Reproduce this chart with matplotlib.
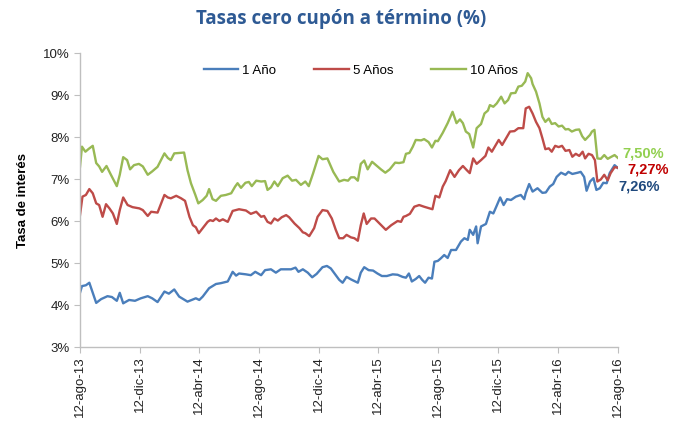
import matplotlib
matplotlib.use("Agg")
import matplotlib.pyplot as plt
import numpy as np
import datetime as dt
import matplotlib.dates as mdates
from matplotlib.ticker import FuncFormatter

START = dt.date(2013, 8, 12)

# day offsets from 12-ago-13 and rate values (%)
days_1y = [0, 4, 12, 19, 33, 43, 56, 65, 75, 81, 88, 100, 112, 124, 138, 147, 158, 172, 181, 192,
           202, 219, 236, 243, 250, 263, 277, 287, 301, 311, 318, 324, 338, 348, 357, 369, 377, 389,
           399, 409, 420, 430, 439, 445, 454, 464, 473, 482, 494, 503, 511, 521, 528, 535, 543, 552,
           566, 572, 579, 588, 597, 606, 615, 625, 637, 647, 657, 664, 670, 676, 684, 691, 697, 703,
           710, 717, 722, 729, 735, 742, 749, 756, 766, 776, 783, 790, 794, 801, 807, 810, 817, 827,
           835, 842, 848, 856, 863, 870, 878, 888, 898, 905, 908, 915, 922, 932, 942, 949, 957, 964,
           971, 980, 989, 995, 1003, 1014, 1020, 1027, 1032, 1039, 1046, 1052, 1059, 1066, 1073,
           1079, 1089, 1096]
vals_1y = [4.29, 4.45, 4.47, 4.53, 4.05, 4.14, 4.21, 4.19, 4.10, 4.29, 4.04, 4.12, 4.10, 4.16, 4.21,
           4.16, 4.07, 4.32, 4.27, 4.37, 4.20, 4.08, 4.16, 4.12, 4.20, 4.40, 4.50, 4.52, 4.56, 4.79,
           4.70, 4.75, 4.73, 4.71, 4.79, 4.71, 4.83, 4.85, 4.77, 4.85, 4.85, 4.85, 4.89, 4.79, 4.85,
           4.77, 4.66, 4.74, 4.90, 4.93, 4.87, 4.71, 4.60, 4.53, 4.67, 4.61, 4.53, 4.77, 4.90, 4.83,
           4.82, 4.75, 4.69, 4.69, 4.73, 4.72, 4.67, 4.65, 4.75, 4.56, 4.62, 4.69, 4.60, 4.53, 4.65,
           4.63, 5.03, 5.05, 5.11, 5.19, 5.12, 5.31, 5.31, 5.51, 5.59, 5.55, 5.79, 5.67, 5.87, 5.47,
           5.87, 5.93, 6.22, 6.18, 6.34, 6.56, 6.38, 6.52, 6.50, 6.58, 6.62, 6.52, 6.66, 6.88, 6.70,
           6.78, 6.67, 6.68, 6.82, 6.88, 7.05, 7.15, 7.10, 7.17, 7.12, 7.15, 7.17, 7.05, 6.72, 6.94,
           7.02, 6.74, 6.78, 6.91, 6.90, 7.14, 7.33, 7.26]

days_5y = [0, 5, 12, 19, 26, 33, 39, 46, 53, 60, 67, 75, 81, 88, 97, 107, 121, 128, 138, 145, 158,
           172, 179, 185, 196, 206, 214, 223, 230, 236, 242, 250, 260, 265, 271, 277, 284, 291, 301,
           311, 324, 338, 348, 359, 369, 375, 382, 389, 396, 403, 411, 420, 426, 437, 447, 454, 459,
           467, 477, 484, 494, 504, 513, 521, 528, 536, 543, 552, 559, 566, 572, 578, 584, 593, 600,
           611, 623, 634, 647, 654, 659, 664, 672, 681, 691, 701, 712, 718, 724, 732, 739, 745, 754,
           763, 772, 780, 788, 794, 801, 808, 817, 826, 832, 839, 846, 853, 860, 868, 876, 885, 893,
           903, 908, 915, 922, 929, 936, 942, 948, 955, 961, 968, 975, 982, 989, 997, 1003, 1010,
           1017, 1024, 1029, 1036, 1043, 1049, 1054, 1061, 1068, 1075, 1081, 1089, 1096]
vals_5y = [6.14, 6.58, 6.62, 6.76, 6.66, 6.42, 6.38, 6.10, 6.40, 6.30, 6.18, 5.93, 6.26, 6.56, 6.38,
           6.33, 6.30, 6.26, 6.12, 6.22, 6.20, 6.62, 6.56, 6.54, 6.60, 6.54, 6.48, 6.10, 5.90, 5.85,
           5.71, 5.83, 5.98, 6.02, 6.00, 6.06, 6.00, 6.04, 5.98, 6.24, 6.28, 6.25, 6.17, 6.22, 6.10,
           6.12, 5.98, 5.94, 6.06, 6.01, 6.09, 6.14, 6.09, 5.94, 5.83, 5.73, 5.71, 5.64, 5.83, 6.10,
           6.26, 6.24, 6.06, 5.79, 5.59, 5.59, 5.67, 5.61, 5.59, 5.53, 5.90, 6.18, 5.93, 6.06, 6.06,
           5.93, 5.79, 5.90, 6.00, 5.98, 6.10, 6.12, 6.17, 6.34, 6.38, 6.34, 6.30, 6.28, 6.60, 6.56,
           6.82, 6.95, 7.21, 7.05, 7.21, 7.31, 7.21, 7.14, 7.49, 7.36, 7.45, 7.55, 7.75, 7.65, 7.79,
           7.93, 7.81, 7.97, 8.13, 8.14, 8.21, 8.21, 8.68, 8.72, 8.56, 8.36, 8.21, 7.97, 7.71, 7.73,
           7.65, 7.79, 7.76, 7.79, 7.67, 7.69, 7.53, 7.60, 7.55, 7.65, 7.49, 7.60, 7.57, 7.45, 6.94,
           6.99, 7.10, 6.97, 7.14, 7.28, 7.27]

days_10y = [0, 4, 11, 18, 26, 33, 39, 45, 54, 63, 75, 81, 88, 96, 102, 110, 120, 128, 138, 147, 158,
            172, 179, 185, 192, 202, 212, 219, 226, 235, 241, 250, 258, 263, 270, 277, 287, 297, 308,
            316, 321, 328, 337, 344, 350, 359, 369, 377, 382, 389, 396, 403, 413, 423, 432, 440, 450,
            459, 466, 475, 486, 494, 504, 516, 528, 538, 546, 552, 559, 566, 572, 579, 586, 595, 603,
            613, 622, 631, 642, 650, 659, 664, 671, 678, 684, 695, 701, 710, 717, 724, 729, 739, 749,
            759, 767, 774, 780, 786, 793, 801, 808, 817, 824, 831, 835, 842, 849, 858, 865, 872, 878,
            887, 893, 900, 907, 912, 919, 922, 929, 936, 942, 948, 955, 961, 968, 975, 982, 989, 995,
            1002, 1010, 1017, 1023, 1029, 1039, 1043, 1048, 1054, 1061, 1068, 1075, 1081, 1089, 1096]
vals_10y = [7.29, 7.77, 7.65, 7.72, 7.79, 7.38, 7.30, 7.17, 7.31, 7.10, 6.83, 7.10, 7.52, 7.45, 7.23,
            7.33, 7.36, 7.30, 7.10, 7.18, 7.29, 7.61, 7.50, 7.45, 7.61, 7.62, 7.63, 7.21, 6.90, 6.62,
            6.42, 6.50, 6.60, 6.76, 6.52, 6.48, 6.60, 6.62, 6.66, 6.82, 6.90, 6.79, 6.91, 6.93, 6.83,
            6.96, 6.94, 6.95, 6.74, 6.80, 6.94, 6.83, 7.02, 7.08, 6.96, 6.98, 6.86, 6.94, 6.83, 7.14,
            7.55, 7.47, 7.49, 7.17, 6.94, 6.98, 6.96, 7.04, 7.04, 6.96, 7.36, 7.44, 7.23, 7.41, 7.33,
            7.23, 7.15, 7.23, 7.39, 7.38, 7.40, 7.60, 7.62, 7.77, 7.93, 7.92, 7.95, 7.88, 7.75, 7.91,
            7.90, 8.10, 8.33, 8.60, 8.33, 8.42, 8.33, 8.13, 8.07, 7.75, 8.21, 8.31, 8.56, 8.63, 8.76,
            8.72, 8.80, 8.96, 8.80, 8.88, 9.04, 9.05, 9.20, 9.22, 9.32, 9.52, 9.40, 9.26, 9.08, 8.80,
            8.48, 8.36, 8.44, 8.31, 8.33, 8.25, 8.27, 8.18, 8.19, 8.13, 8.17, 8.18, 8.02, 7.93, 8.05,
            8.13, 8.17, 7.49, 7.48, 7.57, 7.48, 7.52, 7.57, 7.50]

series_names = ["1 Año", "5 Años", "10 Años"]
end_labels = ["7,26%", "7,27%", "7,50%"]
tick_dates = ["2013-08-12", "2013-12-12", "2014-04-12", "2014-08-12", "2014-12-12",
              "2015-04-12", "2015-08-12", "2015-12-12", "2016-04-12", "2016-08-12"]
tick_labels = ["12-ago-13", "12-dic-13", "12-abr-14", "12-ago-14", "12-dic-14",
               "12-abr-15", "12-ago-15", "12-dic-15", "12-abr-16", "12-ago-16"]
y_ticks = [3, 4, 5, 6, 7, 8, 9, 10]

line_colors = ["#4A7EBB", "#BE4B48", "#98B954"]
label_colors = ["#1F497D", "#C00000", "#92D050"]

def to_dates(days):
    return [START + dt.timedelta(days=int(d)) for d in days]

plt.rcParams['font.family'] = ['Liberation Sans', 'DejaVu Sans']

fig = plt.figure(figsize=(6.75, 4.25), dpi=100)
ax = fig.add_axes([80/675, 1-347/425, (618-80)/675, (347-53)/425])

all_days = [days_1y, days_5y, days_10y]
all_vals = [vals_1y, vals_5y, vals_10y]
for d, v, name, c in zip(all_days, all_vals, series_names, line_colors):
    ax.plot(to_dates(d), v, color=c, lw=1.7, label=name)

ax.set_ylim(3, 10)
ax.set_yticks(y_ticks)
ax.yaxis.set_major_formatter(FuncFormatter(lambda v, p: f"{int(v)}%"))
xt = [dt.date.fromisoformat(s) for s in tick_dates]
ax.set_xlim(xt[0], xt[-1])
ax.set_xticks(xt)
ax.set_xticklabels(tick_labels, rotation=90, fontsize=9.5, color="#222222")
ax.tick_params(axis='y', labelsize=9.5, colors="#222222", length=4, color="#BFBFBF")
ax.tick_params(axis='x', length=4, color="#BFBFBF", pad=3)
for s in ["top", "right"]:
    ax.spines[s].set_visible(False)
for s in ["left", "bottom"]:
    ax.spines[s].set_color("#BFBFBF")
    ax.spines[s].set_linewidth(1.0)

ax.set_ylabel("Tasa de interés", fontsize=9.5, fontweight="bold", labelpad=10)

# end-value labels
offsets = [(0.5, -13), (7, -1.5), (3, 3.5)]
for d, v, lab, c, off in zip(all_days, all_vals, end_labels, label_colors, offsets):
    ax.annotate(lab, xy=(to_dates(d)[-1], v[-1]), xytext=off, textcoords="offset points",
                color=c, fontsize=10.5, fontweight="bold", va="center", ha="left",
                annotation_clip=False)

leg = ax.legend(loc="upper center", bbox_to_anchor=(0.522, 1.0), ncol=3, frameon=False,
                fontsize=9.5, handlelength=2.6, columnspacing=2.9, handletextpad=0.3)

fig.text(0.505, 0.955, "Tasas cero cupón a término (%)", ha="center", va="center",
         fontsize=13.5, fontweight="bold", color="#2E5A94", family=["Open Sans", "DejaVu Sans"])

fig.savefig("out.png", dpi=100)
